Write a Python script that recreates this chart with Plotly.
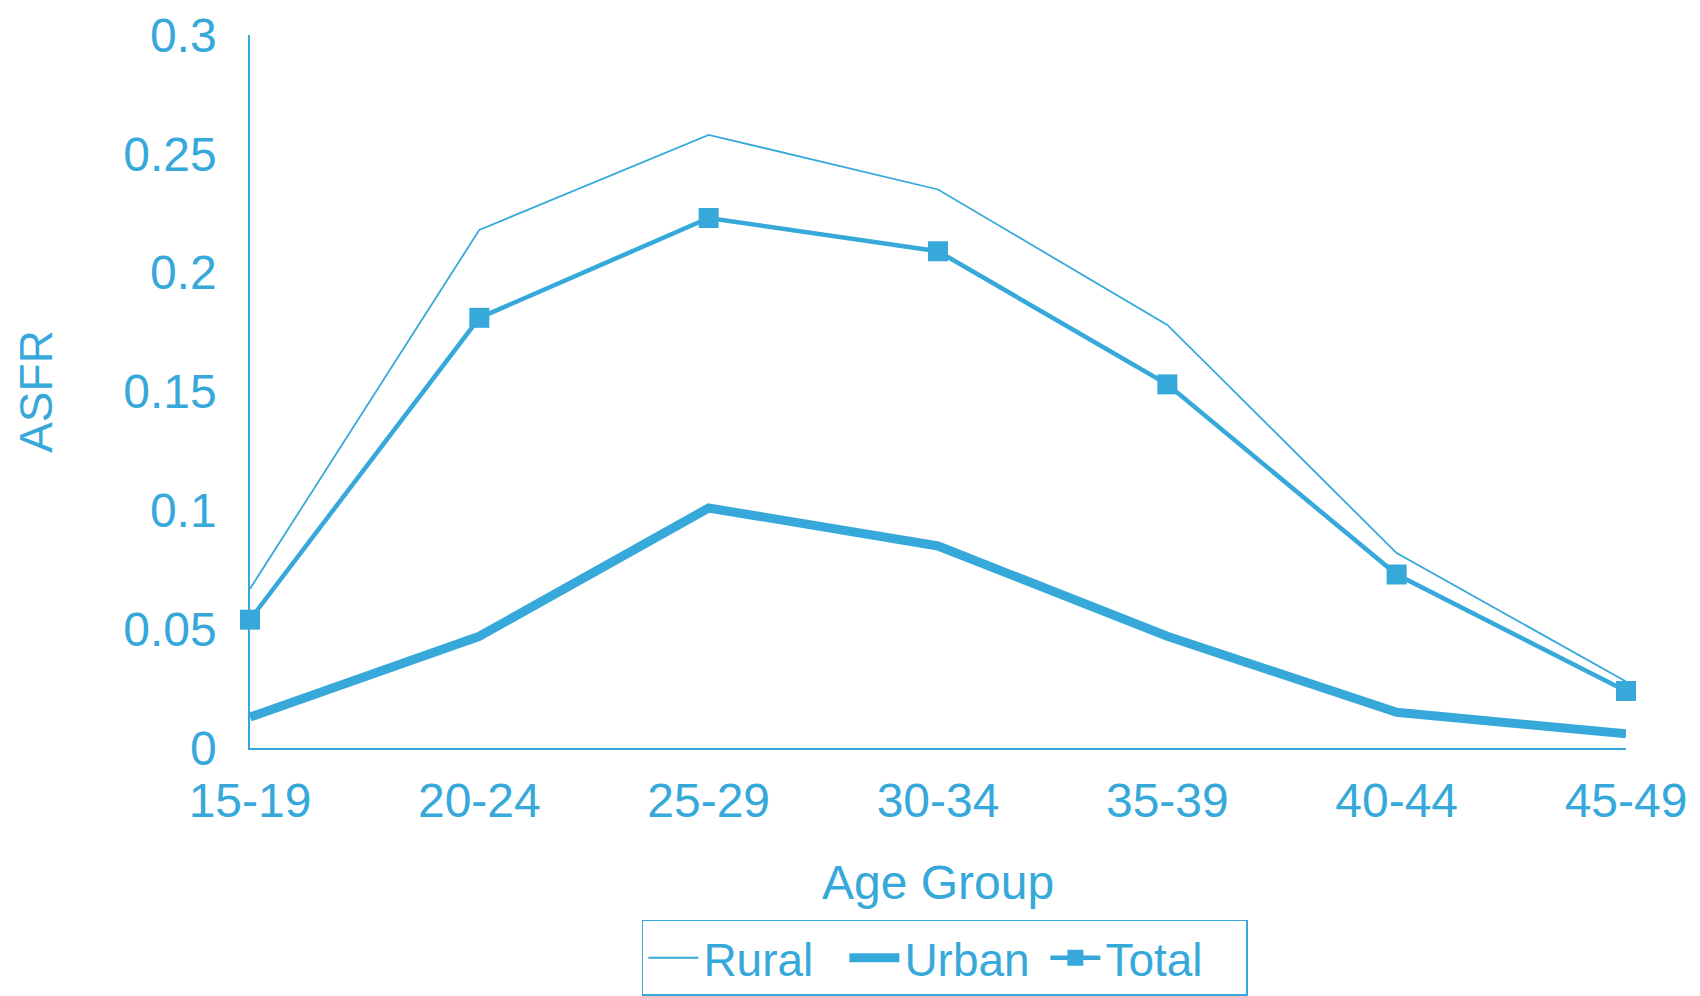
import plotly.graph_objects as go

age_groups = ["15-19", "20-24", "25-29", "30-34", "35-39", "40-44", "45-49"]
rural = [0.067, 0.218, 0.258, 0.235, 0.178, 0.082, 0.028]
urban = [0.013, 0.047, 0.101, 0.085, 0.047, 0.015, 0.006]
total = [0.054, 0.181, 0.223, 0.209, 0.153, 0.073, 0.024]
y_ticks = [0, 0.05, 0.1, 0.15, 0.2, 0.25, 0.3]
y_ticktext = ["0", "0.05", "0.1", "0.15", "0.2", "0.25", "0.3"]

BLUE = "#36a9da"
FONT = "Liberation Sans, Arial, sans-serif"

fig = go.Figure()
fig.add_trace(go.Scatter(x=age_groups, y=rural, name="Rural", mode="lines",
                         line=dict(color=BLUE, width=1.8), cliponaxis=False))
fig.add_trace(go.Scatter(x=age_groups, y=urban, name="Urban", mode="lines",
                         line=dict(color=BLUE, width=9), cliponaxis=False))
fig.add_trace(go.Scatter(x=age_groups, y=total, name="Total", mode="lines+markers",
                         line=dict(color=BLUE, width=4.5),
                         marker=dict(symbol="square", size=20, color=BLUE),
                         cliponaxis=False))

fig.update_layout(
    width=1692, height=988,
    margin=dict(l=242, r=74, t=27, b=248, autoexpand=False),
    paper_bgcolor="white", plot_bgcolor="white",
    font=dict(family=FONT, color=BLUE, size=48),
    showlegend=True,
    legend=dict(orientation="h", x=0.505, xanchor="center", y=-0.241, yanchor="top",
                bordercolor=BLUE, borderwidth=1.5, font=dict(size=46, color=BLUE),
                itemwidth=50, entrywidth=136, tracegroupgap=0),
    xaxis=dict(type="category", range=[0, 6], showgrid=False, zeroline=False,
               showline=True, linecolor=BLUE, linewidth=1.5, automargin=False,
               ticks="", ticklabelstandoff=10, ticklabeloverflow="allow",
               tickfont=dict(size=48, color=BLUE),
               title=dict(text="Age Group", font=dict(size=48, color=BLUE), standoff=39)),
    yaxis=dict(range=[0, 0.3], tickvals=y_ticks, ticktext=y_ticktext,
               showgrid=False, zeroline=False, automargin=False,
               showline=True, linecolor=BLUE, linewidth=1.5,
               ticks="", ticklabelstandoff=22, ticklabeloverflow="allow",
               tickfont=dict(size=48, color=BLUE),
               title=dict(text="ASFR", font=dict(size=46, color=BLUE), standoff=56)),
)

fig.write_html("out.html")
